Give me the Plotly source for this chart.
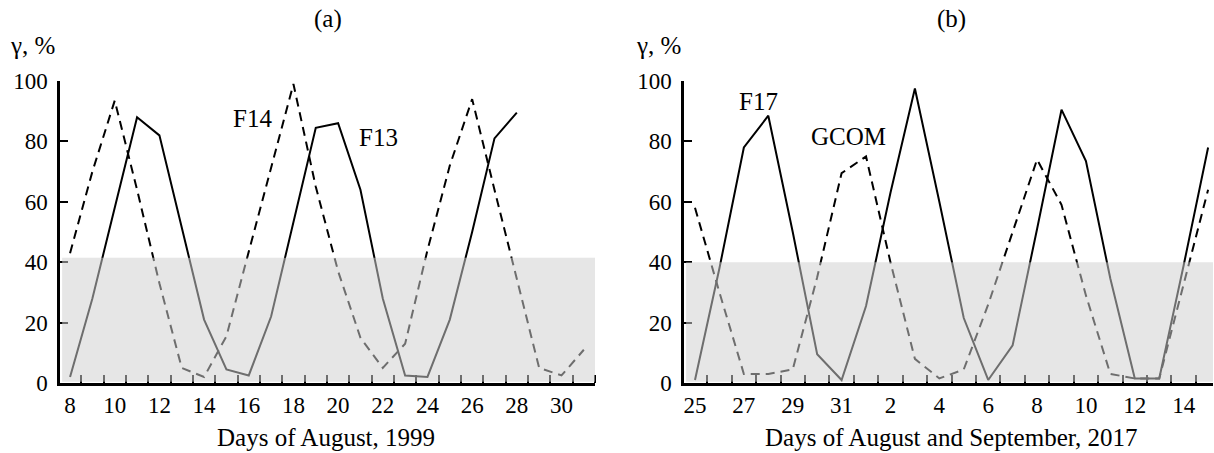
import numpy as np
import plotly.graph_objects as go

# ---------------- data ----------------
# Panel (a): days of August 1999
f13_days = list(range(8, 29))
f13 = [2, 28, 58, 88, 82, 51, 21, 4.5, 2.5, 22, 53, 84.5, 86, 64, 28, 2.5, 2, 21, 50, 81, 89.5]
f14_days = list(range(8, 32))
f14 = [43, 70, 93.5, 64, 33, 5, 2, 15.5, 43.5, 71, 99, 65, 37, 15, 5, 13, 44, 72, 94, 64, 34, 5, 2.5, 11]
a_tick_days = list(range(8, 31, 2))

# Panel (b): days of August and September 2017
b_dates = ["25", "26", "27", "28", "29", "30", "31", "1", "2", "3", "4", "5", "6",
           "7", "8", "9", "10", "11", "12", "13", "14", "15"]
f17 = [1, 38, 78, 88.5, 50, 9.5, 1, 25.5, 63, 97.5, 60, 21.5, 1, 12.5, 51, 90.5, 73.5, 34.5, 1.5, 1.5, 39, 78]
gcom = [58, 30, 3, 3, 4.5, 35, 69.5, 75, 40, 8, 1.5, 4.5, 26, 50, 74, 59, 29, 3, 1.5, 1.5, 33, 64]
y_ticks = [0, 20, 40, 60, 80, 100]
shade_a = 41.5
shade_b = 40

# ---------------- figure ----------------
W, H = 1214, 453
FONT = "Liberation Serif"
b_idx = list(range(len(b_dates)))


def px(x):
    return x / W


def py(y):
    return 1 - y / H


fig = go.Figure()
solid = dict(color="black", width=2)
dashed = dict(color="black", width=2, dash="9px,6px")

fig.add_trace(go.Scatter(x=f13_days, y=f13, mode="lines", line=solid, xaxis="x", yaxis="y", showlegend=False))
fig.add_trace(go.Scatter(x=f14_days, y=f14, mode="lines", line=dashed, xaxis="x", yaxis="y", showlegend=False))
fig.add_trace(go.Scatter(x=b_idx, y=f17, mode="lines", line=solid, xaxis="x2", yaxis="y2", showlegend=False))
fig.add_trace(go.Scatter(x=b_idx, y=gcom, mode="lines", line=dashed, xaxis="x2", yaxis="y2", showlegend=False))

ydom = [py(383), py(81)]
xa_range = [7.55, 31.5]
xb_range = [-0.45, 21.2]

common_x = dict(showline=True, linecolor="black", linewidth=2.5, ticks="", showgrid=False,
                zeroline=False, automargin=False,
                tickfont=dict(family=FONT, size=23, color="black"),
                ticklabelstandoff=0)
common_y = dict(showline=True, linecolor="black", linewidth=2.5, ticks="inside", ticklen=8,
                tickwidth=2, tickcolor="black", showgrid=False, zeroline=False, automargin=False,
                tickvals=y_ticks, range=[0, 100],
                tickfont=dict(family=FONT, size=23, color="black"), ticklabelstandoff=5)

minor_a = list(np.arange(8.5, xa_range[1] + 0.01, 1.0))
minor_b = list(np.arange(0.5, 20.6, 1.0))

fig.update_layout(
    width=W, height=H,
    margin=dict(l=0, r=0, t=0, b=0, autoexpand=False),
    paper_bgcolor="white", plot_bgcolor="white",
    xaxis=dict(domain=[px(60), px(595)], range=xa_range, anchor="y",
               tickvals=a_tick_days, ticktext=[str(d) for d in a_tick_days],
               minor=dict(tickvals=minor_a, ticks="inside", ticklen=8, tickwidth=2, tickcolor="black"),
               **common_x),
    yaxis=dict(domain=ydom, anchor="x", **common_y),
    xaxis2=dict(domain=[px(684), px(1213)], range=xb_range, anchor="y2",
                tickvals=b_idx[::2], ticktext=b_dates[::2],
                minor=dict(tickvals=minor_b, ticks="inside", ticklen=8, tickwidth=2, tickcolor="black"),
                **common_x),
    yaxis2=dict(domain=ydom, anchor="x2", **common_y),
)

shade_fill = "rgba(208,208,208,0.53)"
fig.add_shape(type="rect", xref="x domain", yref="y", x0=0.004, x1=1, y0=0.45, y1=shade_a,
              fillcolor=shade_fill, line=dict(width=0), layer="above")
fig.add_shape(type="rect", xref="x2 domain", yref="y2", x0=0.004, x1=1, y0=0.45, y1=shade_b,
              fillcolor=shade_fill, line=dict(width=0), layer="above")

tf = dict(family=FONT, size=25, color="black")
ann = [
    dict(text="(a)", x=px(327.5), y=py(19), xref="paper", yref="paper"),
    dict(text="(b)", x=px(951), y=py(19), xref="paper", yref="paper"),
    dict(text="γ, %", x=px(32.5), y=py(46), xref="paper", yref="paper"),
    dict(text="γ, %", x=px(658.5), y=py(46), xref="paper", yref="paper"),
    dict(text="Days of August, 1999", x=px(326), y=py(437), xref="paper", yref="paper"),
    dict(text="Days of August and September, 2017", x=px(951.5), y=py(437), xref="paper", yref="paper"),
    dict(text="F14", x=16.15, y=87.7, xref="x", yref="y"),
    dict(text="F13", x=21.8, y=81.4, xref="x", yref="y"),
    dict(text="F17", x=2.6, y=93.3, xref="x2", yref="y2"),
    dict(text="GCOM", x=6.27, y=81.7, xref="x2", yref="y2"),
]
for a in ann:
    fig.add_annotation(showarrow=False, font=tf, xanchor="center", yanchor="middle", **a)

# the page's default 8px body margin would push the 1214x453 figure off the window
fig.write_html("out.html", config={"displayModeBar": False},
               post_script="document.body.style.margin='0px';")
